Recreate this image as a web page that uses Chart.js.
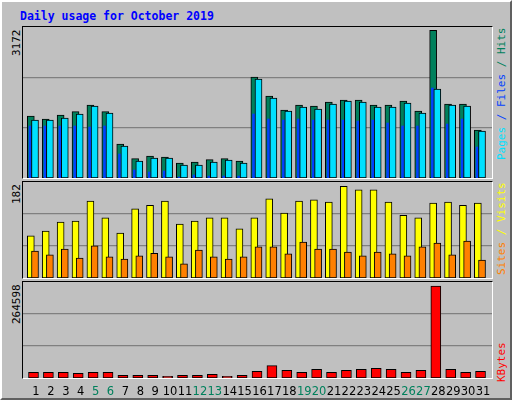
<!DOCTYPE html>
<html><head><meta charset="utf-8">
<script src="https://cdn.jsdelivr.net/npm/chart.js@4"></script>
<style>
body{margin:0;background:#fff}
#wrap{position:absolute;left:0;top:0;width:508px;height:396px;background:#C0C0C0;border-top:2px solid #fff;border-left:2px solid #fff;border-right:2px solid #606060;border-bottom:2px solid #606060}
.panel{position:absolute;left:20px;width:469px;border-top:1px solid #000;border-left:1px solid #000;border-right:1px solid #fff;border-bottom:1px solid #fff}
canvas{position:absolute}
.lab{position:absolute;font:11px "DejaVu Sans Mono",monospace;white-space:nowrap;transform-origin:0 0;transform:rotate(-90deg)}
#title{position:absolute;left:18px;top:7px;font:bold 11.5px "DejaVu Sans Mono",monospace;color:#0000FF}
</style></head><body>
<div id="wrap">
<div id="title">Daily usage for October 2019</div>
</div>
<script>
const days=[1,2,3,4,5,6,7,8,9,10,11,12,13,14,15,16,17,18,19,20,21,22,23,24,25,26,27,28,29,30,31];
const weekend=[5,6,12,13,19,20,26,27];
const hits=[1302,1239,1323,1393,1533,1393,714,406,462,441,315,336,385,406,357,2121,1722,1428,1533,1512,1596,1638,1638,1533,1533,1617,1407,3100,1554,1554,1008];
const pages=[1218,1218,1260,1344,1512,1365,672,357,420,420,273,273,336,378,315,2079,1680,1407,1491,1449,1554,1617,1596,1491,1491,1575,1365,1869,1533,1512,987];
const files=[1092,1092,1092,1092,1071,1092,504,168,126,147,21,63,42,42,42,1344,1239,1218,1239,1218,1218,1218,1197,1218,1155,1092,1092,1890,1134,1239,651];
const visits=[80,89,106,108,146,114,85,131,138,146,102,108,114,114,93,114,150,123,146,148,144,174,167,167,144,119,114,142,144,138,142];
const sites=[51,44,55,38,61,40,36,42,47,40,27,53,40,36,40,59,59,46,68,55,55,49,42,49,46,42,59,66,44,70,34];
const kbytes=[15700,15700,15700,12950,15700,15700,7400,7400,7400,4600,7400,7400,10200,4600,7400,18500,34200,21300,15700,24000,15700,21300,24000,26800,24000,15700,21300,253450,24000,15700,18500];
const max1=3172,max2=182,max3=264598;

const wrap=document.getElementById('wrap');
function mk(top,h,extra){
  const p=document.createElement('div');p.className='panel';p.style.top=(top-1)+'px';p.style.height=h+'px';wrap.appendChild(p);
  const c=document.createElement('canvas');c.style.left='0px';c.style.top='0px';c.width=469;c.height=h+(extra||0);
  c.style.width='469px';c.style.height=(h+(extra||0))+'px';p.appendChild(c);return c;
}
function pts(arr,off){return arr.map((v,i)=>({x:days[i]+off,y:v}));}
function opts(max,padBottom){
  return {animation:false,responsive:false,devicePixelRatio:1,events:[],
   layout:{padding:{left:0,right:0,top:0,bottom:padBottom||0}},
   plugins:{legend:{display:false},tooltip:{enabled:false}},
   scales:{
    x:{type:'linear',min:0.195,max:31.67,display:false,offset:false},
    y:{min:0,max:max,border:{display:false},ticks:{display:false},grid:{color:'#808080',drawTicks:false,lineWidth:1.2},
       afterBuildTicks:s=>{s.ticks=[{value:max/3},{value:2*max/3}];},afterFit:s=>{s.width=0;}}
   }};
}
function ds(arr,off,color,w,order,bw){return {data:pts(arr,off),backgroundColor:color,borderColor:'#000',borderWidth:bw===undefined?1:bw,barThickness:w,grouped:false,order:order,borderSkipped:false};}

new Chart(mk(25,151),{type:'bar',data:{datasets:[
  ds(hits,-0.28,'#00805C',7,2),ds(files,-0.33,'#0040FF',2,1,0),ds(pages,0,'#00E0FF',7,0)]},options:opts(max1)});
new Chart(mk(180,96),{type:'bar',data:{datasets:[
  ds(visits,-0.28,'#FFFF00',7,1),ds(sites,0,'#FF8000',7,0)]},options:opts(max2)});
const labelPlugin={id:'lbl',afterDraw(ch){const ctx=ch.ctx,xs=ch.scales.x;ctx.save();ctx.font='11.5px "DejaVu Sans"';ctx.textAlign='center';ctx.textBaseline='middle';
  days.forEach(d=>{ctx.fillStyle=weekend.includes(d)?'#00805C':'#000';ctx.fillText(String(d),xs.getPixelForValue(d)+1,110);});ctx.restore();}};
const c3=mk(280,96,22);c3.parentNode.style.overflow='visible';
new Chart(c3,{type:'bar',data:{datasets:[ds(kbytes,-0.1,'#FF0000',10,0)]},options:opts(max3,22),plugins:[labelPlugin]});

function lab(html,x,yBottom){const d=document.createElement('div');d.className='lab';d.innerHTML=html;d.style.left=x+'px';d.style.top=yBottom+'px';wrap.appendChild(d);return d;}
function leftLab(t,x,yTop){const d=lab(t,x,0);const w=d.offsetWidth;d.style.top=(yTop+w)+'px';}
leftLab(String(max1),8,27);leftLab(String(max2),8,182);leftLab(String(max3),8,282);
function rightLab(html,x,yTop){const d=lab(html,x,0);const w=d.offsetWidth;d.style.top=(yTop+w)+'px';}
rightLab('<span style="color:#00E0FF">Pages</span><span style="color:#0040FF"> / Files</span><span style="color:#00805C"> / Hits</span>',493,26);
rightLab('<span style="color:#FF8000">Sites</span><span style="color:#FFFF00"> / Visits</span>',493,180);
rightLab('<span style="color:#FF0000">KBytes</span>',493,340);
</script></body></html>
